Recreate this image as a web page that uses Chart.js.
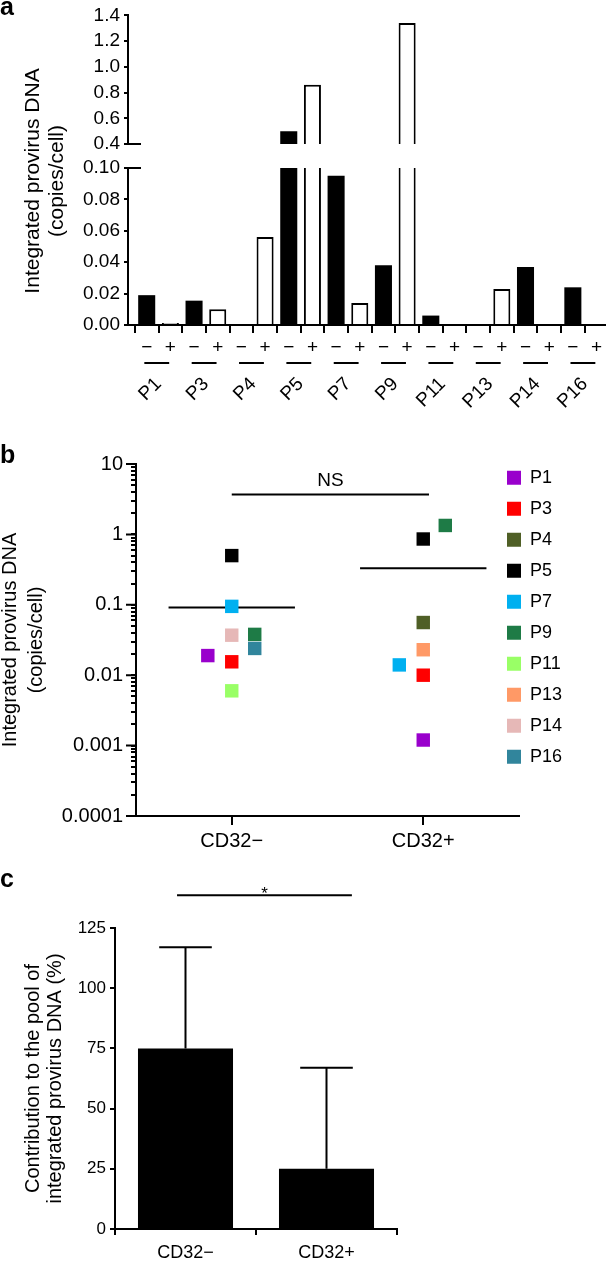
<!DOCTYPE html>
<html>
<head>
<meta charset="utf-8">
<script src="https://cdn.jsdelivr.net/npm/chart.js@4.4.1/dist/chart.umd.min.js"></script>
<style>
  html, body { margin: 0; padding: 0; background: #fff; }
  #fig { position: relative; width: 606px; height: 1261px; overflow: hidden; font-family: "Liberation Sans", Arial, sans-serif; }
  canvas { position: absolute; left: 0; }
  .panel-label { position: absolute; left: 0; font-weight: bold; font-size: 25px; line-height: 1; }
</style>
</head>
<body>
<div id="fig">
  <canvas id="a-top" width="606" height="440" style="top:0"></canvas>
  <canvas id="a-bottom" width="606" height="440" style="top:0"></canvas>
  <canvas id="b-chart" width="606" height="430" style="top:440px"></canvas>
  <canvas id="c-chart" width="606" height="391" style="top:870px"></canvas>
  <div class="panel-label" style="top:-6px">a</div>
  <div class="panel-label" style="top:442px">b</div>
  <div class="panel-label" style="top:866px">c</div>
</div>
<script>
  const patients = ["P1", "P3", "P4", "P5", "P7", "P9", "P11", "P13", "P14", "P16"];
  const cd32Neg = [0.019, 0.0155, 0, 0.50, 0.095, 0.038, 0.006, 0, 0.037, 0.024];
  const cd32Pos = [0.0012, 0.010, 0.056, 0.86, 0.014, 1.34, 0, 0.023, 0, 0];
  const signLabels = ["\u2212", "+"];
  const upperTicks = [0.4, 0.6, 0.8, 1.0, 1.2, 1.4];
  const lowerTicks = [0, 0.02, 0.04, 0.06, 0.08, 0.10];

  // panel b: same values, spread sideways like the original dot plot
  const patientColors = ["#9900cc", "#ff0000", "#4f5f26", "#000000", "#00b0f0", "#1e7b46", "#99ff66", "#ff9966", "#e6b8b7", "#31859c"];
  const dodgeNeg = [-0.125, 0, 0, 0, 0, 0.12, 0, 0, 0, 0.12];
  const dodgePos = [0, 0, 0, 0, -0.125, 0.115, 0, 0, 0, 0];
  const logTickLabels = ["0.0001", "0.001", "0.01", "0.1", "1", "10"];

  // panel c
  const groups = ["CD32\u2212", "CD32+"];
  const contribution = [75, 25];
  const contributionSd = [42, 42];

  Chart.defaults.font.family = '"Liberation Sans", Arial, sans-serif';
  Chart.defaults.color = "#000";
  Chart.defaults.animation = false;
  Chart.defaults.plugins.tooltip.enabled = false;

  const X_MIN = -0.79, X_MAX = 19.4;
  const axisLine = { color: "#000", width: 2 };
  const tickGrid = (len) => ({ drawOnChartArea: false, color: "#000", lineWidth: 2, tickLength: len });

  const nz = (v) => (v > 0 ? v : null);
  const barData = (arr, off) => arr.map((v, i) => ({ x: i * 2 + off, y: nz(v) }));
  const mean = (arr) => {
    const vals = arr.filter((v) => v > 0);
    return vals.reduce((s, v) => s + v, 0) / vals.length;
  };

  function barSets() {
    return [
      { data: barData(cd32Neg, 0), backgroundColor: "#000", borderColor: "#000", borderWidth: 0 },
      { data: barData(cd32Pos, 1), backgroundColor: "#fff", borderColor: "#000", borderWidth: 2 },
    ].map((d) => Object.assign(d, { grouped: false, barPercentage: 0.72, categoryPercentage: 1, clip: 0 }));
  }

  const breakMark = {
    id: "breakMark",
    afterDraw(chart, args, opts) {
      const { ctx, chartArea } = chart;
      const y = chart.scales.y.getPixelForValue(opts.value);
      ctx.save();
      ctx.strokeStyle = "#000";
      ctx.lineWidth = 2;
      ctx.beginPath();
      ctx.moveTo(chartArea.left - 1, y);
      ctx.lineTo(chartArea.left + 13, y);
      ctx.stroke();
      ctx.restore();
    },
  };

  const pairLines = {
    id: "pairLines",
    afterDraw(chart, args, opts) {
      const { ctx } = chart;
      const xs = chart.scales.x;
      const y = chart.chartArea.bottom + opts.offset;
      ctx.save();
      ctx.strokeStyle = "#000";
      ctx.lineWidth = 2;
      ctx.beginPath();
      patients.forEach((p, i) => {
        ctx.moveTo(xs.getPixelForValue(i * 2 - 0.1), y);
        ctx.lineTo(xs.getPixelForValue(i * 2 + 0.95), y);
      });
      ctx.stroke();
      ctx.restore();
    },
  };

  const sideTitle = {
    id: "sideTitle",
    afterDraw(chart, args, opts) {
      const { ctx } = chart;
      ctx.save();
      ctx.fillStyle = "#000";
      ctx.font = opts.font;
      ctx.textAlign = "center";
      ctx.textBaseline = "middle";
      opts.lines.forEach((t, i) => {
        ctx.save();
        ctx.translate(opts.x[i], opts.y);
        ctx.rotate(-Math.PI / 2);
        ctx.fillText(t, 0, 0);
        ctx.restore();
      });
      ctx.restore();
    },
  };

  const sigBar = {
    id: "sigBar",
    afterDraw(chart, args, opts) {
      const { ctx } = chart;
      const x1 = chart.scales.x.getPixelForValue(opts.from);
      const x2 = chart.scales.x.getPixelForValue(opts.to);
      const y = chart.scales.y.getPixelForValue(opts.at);
      ctx.save();
      ctx.strokeStyle = "#000";
      ctx.lineWidth = 2;
      ctx.beginPath();
      ctx.moveTo(x1, y);
      ctx.lineTo(x2, y);
      ctx.stroke();
      ctx.fillStyle = "#000";
      ctx.font = opts.font;
      ctx.textAlign = "center";
      ctx.textBaseline = "alphabetic";
      ctx.fillText(opts.text, (x1 + x2) / 2, y - opts.gap);
      ctx.restore();
    },
  };

  const errorBars = {
    id: "errorBars",
    afterDatasetsDraw(chart, args, opts) {
      const { ctx } = chart;
      const ys = chart.scales.y;
      ctx.save();
      ctx.strokeStyle = "#000";
      ctx.lineWidth = 2;
      ctx.beginPath();
      chart.getDatasetMeta(0).data.forEach((bar, i) => {
        const top = ys.getPixelForValue(contribution[i] + contributionSd[i]);
        ctx.moveTo(bar.x, bar.y);
        ctx.lineTo(bar.x, top);
        ctx.moveTo(bar.x - opts.cap, top);
        ctx.lineTo(bar.x + opts.cap, top);
      });
      ctx.stroke();
      ctx.restore();
    },
  };

  // decades get a longer tick than the minor marks
  const majorTicks = {
    id: "majorTicks",
    afterDraw(chart, args, opts) {
      const { ctx, chartArea } = chart;
      const ys = chart.scales.y;
      ctx.save();
      ctx.strokeStyle = "#000";
      ctx.lineWidth = 2;
      ctx.beginPath();
      logTickLabels.forEach((lab) => {
        const y = ys.getPixelForValue(Number(lab));
        ctx.moveTo(chartArea.left - opts.length, y);
        ctx.lineTo(chartArea.left, y);
      });
      ctx.stroke();
      ctx.restore();
    },
  };

  const legendSpot = {
    id: "legendSpot",
    afterLayout(chart, args, opts) {
      const lg = chart.legend;
      const w = lg.width, h = lg.height;
      lg.left = opts.left; lg.right = opts.left + w;
      lg.top = opts.top; lg.bottom = opts.top + h;
    },
  };

  // ---- panel a, upper part (0.4 - 1.4)
  new Chart(document.getElementById("a-top"), {
    type: "bar",
    data: { datasets: barSets() },
    plugins: [breakMark],
    options: {
      responsive: false,
      layout: { padding: { top: 11, bottom: 296, left: 0, right: 0 } },
      plugins: { legend: { display: false }, breakMark: { value: 0.4 } },
      scales: {
        x: { type: "linear", offset: false, min: X_MIN, max: X_MAX, display: false },
        y: {
          min: 0.4, max: 1.4,
          afterBuildTicks: (s) => { s.ticks = upperTicks.map((v) => ({ value: v })); },
          afterFit: (s) => { s.width = 128; },
          ticks: { font: { size: 19 }, padding: 4, callback: (v) => v.toFixed(1) },
          grid: tickGrid(4),
          border: axisLine,
        },
      },
    },
  });

  // ---- panel a, lower part (0 - 0.1) with the x axis
  new Chart(document.getElementById("a-bottom"), {
    type: "bar",
    data: { datasets: barSets() },
    plugins: [breakMark, pairLines, sideTitle],
    options: {
      responsive: false,
      layout: { padding: { top: 168, bottom: 0, left: 0, right: 0 } },
      plugins: {
        legend: { display: false },
        breakMark: { value: 0.1 },
        pairLines: { offset: 38 },
        sideTitle: {
          lines: ["Integrated provirus DNA", "(copies/cell)"],
          x: [33, 57], y: 181,
          font: '21px "Liberation Sans", Arial, sans-serif',
        },
      },
      scales: {
        x: {
          type: "linear", offset: false, min: X_MIN, max: X_MAX, weight: 0,
          afterBuildTicks: (s) => { s.ticks = patients.flatMap((p, i) => [{ value: i * 2 }, { value: i * 2 + 1 }]); },
          afterFit: (s) => { s.height = 40; },
          ticks: { autoSkip: false, maxRotation: 0, font: { size: 19 }, padding: 3, callback: (v) => signLabels[v % 2] },
          grid: tickGrid(8),
          border: axisLine,
        },
        xp: {
          type: "linear", offset: false, position: "bottom", min: X_MIN, max: X_MAX, weight: 1,
          afterBuildTicks: (s) => { s.ticks = patients.map((p, i) => ({ value: i * 2 + 0.5 })); },
          afterFit: (s) => { s.height = 75; },
          ticks: { autoSkip: false, minRotation: 45, maxRotation: 45, font: { size: 19 }, padding: 0, callback: (v) => patients[(v - 0.5) / 2] },
          grid: { display: false },
          border: { display: false },
        },
        y: {
          min: 0, max: 0.1,
          afterBuildTicks: (s) => { s.ticks = lowerTicks.map((v) => ({ value: v })); },
          afterFit: (s) => { s.width = 128; },
          ticks: { font: { size: 19 }, padding: 4, callback: (v) => v.toFixed(2) },
          grid: tickGrid(4),
          border: axisLine,
        },
      },
    },
  });

  // ---- panel b, dot plot on a log axis
  const dotSets = patients.map((p, i) => ({
    label: p,
    data: [
      { x: 1 + dodgeNeg[i], y: nz(cd32Neg[i]) },
      { x: 2 + dodgePos[i], y: nz(cd32Pos[i]) },
    ].filter((d) => d.y !== null),
    backgroundColor: patientColors[i],
    borderColor: patientColors[i],
    borderWidth: 0,
    pointStyle: "rect",
    pointRadius: 9.5,
  }));
  const meanSet = (arr, x) => ({
    label: "mean",
    isMean: true,
    showLine: true,
    data: [{ x: x - 0.33, y: mean(arr) }, { x: x + 0.33, y: mean(arr) }],
    borderColor: "#000",
    borderWidth: 2,
    pointRadius: 0,
  });

  new Chart(document.getElementById("b-chart"), {
    type: "scatter",
    data: { datasets: [...dotSets, meanSet(cd32Neg, 1), meanSet(cd32Pos, 2)] },
    plugins: [sigBar, legendSpot, majorTicks],
    options: {
      responsive: false,
      layout: { padding: { top: 24, bottom: 0, left: 0, right: 87 } },
      plugins: {
        legend: {
          position: "chartArea",
          align: "start",
          labels: {
            boxWidth: 14, boxHeight: 14, padding: 13,
            font: { size: 18 },
            filter: (item, data) => !data.datasets[item.datasetIndex].isMean,
          },
        },
        legendSpot: { left: 494, top: 15.7 },
        sigBar: { from: 1, to: 2.03, at: 3.7, text: "NS", gap: 8, font: '19px "Liberation Sans", Arial, sans-serif' },
        majorTicks: { length: 10 },
      },
      scales: {
        x: {
          type: "linear", min: 0.5, max: 2.5,
          afterBuildTicks: (s) => { s.ticks = groups.map((g, i) => ({ value: i + 1 })); },
          afterFit: (s) => { s.height = 54; },
          ticks: { autoSkip: false, font: { size: 20 }, padding: 4, callback: (v) => groups[v - 1] },
          grid: tickGrid(9),
          border: axisLine,
        },
        y: {
          type: "logarithmic", min: 0.0001, max: 10,
          afterBuildTicks: (s) => {
            const t = [];
            logTickLabels.forEach((lab, e) => {
              const base = Number(lab);
              const top = e === logTickLabels.length - 1 ? 1 : 9;
              for (let m = 1; m <= top; m++) t.push({ value: base * m, major: m === 1 });
            });
            s.ticks = t;
          },
          afterFit: (s) => { s.width = 136; },
          title: {
            display: true,
            text: ["Integrated provirus DNA", "(copies/cell)"],
            font: { size: 20, lineHeight: 1.3 },
            padding: { top: -3, bottom: 0 },
          },
          ticks: {
            autoSkip: false, font: { size: 20 }, padding: 8,
            callback: (v) => {
              const e = Math.log10(v) + 4;
              return Math.abs(e - Math.round(e)) < 1e-6 ? logTickLabels[Math.round(e)] : "";
            },
          },
          grid: tickGrid(5),
          border: axisLine,
        },
      },
    },
  });

  // ---- panel c, mean contribution with SD
  new Chart(document.getElementById("c-chart"), {
    type: "bar",
    data: {
      labels: groups,
      datasets: [{ data: contribution, backgroundColor: "#000", barPercentage: 0.674, categoryPercentage: 1 }],
    },
    plugins: [errorBars, sigBar],
    options: {
      responsive: false,
      layout: { padding: { top: 58, bottom: 0, left: 0, right: 209 } },
      plugins: {
        legend: { display: false },
        errorBars: { cap: 26.3 },
        sigBar: { from: -0.06, to: 1.18, at: 138.6, text: "*", gap: -4, font: '17px "Liberation Sans", Arial, sans-serif' },
      },
      scales: {
        x: {
          afterFit: (s) => { s.height = 32; },
          ticks: { font: { size: 18 }, padding: 7 },
          grid: tickGrid(6),
          border: axisLine,
        },
        y: {
          min: 0, max: 125,
          ticks: { stepSize: 25, font: { size: 17 }, padding: 4 },
          afterFit: (s) => { s.width = 115; },
          title: {
            display: true,
            text: ["Contribution to the pool of", "integrated provirus DNA (%)"],
            font: { size: 20, lineHeight: 1.1 },
            padding: { top: 22, bottom: 0 },
          },
          grid: tickGrid(5),
          border: axisLine,
        },
      },
    },
  });
</script>
</body>
</html>
